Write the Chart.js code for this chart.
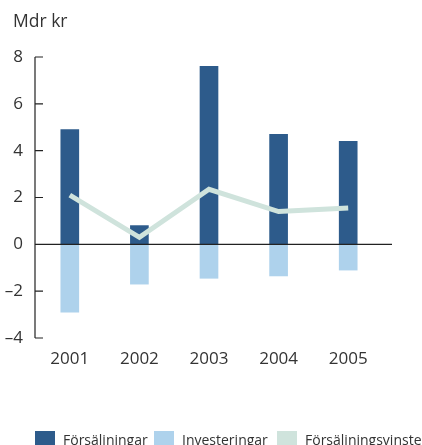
<!DOCTYPE html>
<html>
<head>
<meta charset="utf-8">
<script src="https://cdn.jsdelivr.net/npm/chart.js@4"></script>
<style>
  body { margin: 0; background: #fff; font-family: "Open Sans", sans-serif; color: #333; }
  #wrap { position: relative; width: 422px; height: 445px; overflow: hidden; }
  #unit { position: absolute; left: 13px; top: 8px; font-size: 17.5px; }
  #legend { position: absolute; left: 35px; top: 431px; white-space: nowrap; font-size: 14px; }
  #legend span.item { position: absolute; top: 0; }
  #legend i { display: inline-block; width: 20px; height: 20px; vertical-align: top; margin-right: 8px; }
  #legend b { font-weight: normal; position: relative; top: -1px; }
</style>
</head>
<body>
<div id="wrap">
  <canvas id="chart" width="422" height="445"></canvas>
  <div id="unit">Mdr kr</div>
  <div id="legend"></div>
</div>
<script>
// Data
const years = ['2001', '2002', '2003', '2004', '2005'];
const forsaljningar = [4.9, 0.8, 7.6, 4.7, 4.4];
const investeringar = [-2.9, -1.7, -1.45, -1.35, -1.1];
const vinster = [2.1, 0.3, 2.35, 1.4, 1.55];
const yTicks = [8, 6, 4, 2, 0, -2, -4];

const colors = { dark: '#2d5b8b', light: '#aed2ec', line: '#cfe3dc', text: '#333' };

// Legend (HTML, cut off at the right like the original)
const legendItems = [
    { label: 'Försäljningar', color: colors.dark, x: 0 },
    { label: 'Investeringar', color: colors.light, x: 119 },
    { label: 'Försäljningsvinster', color: colors.line, x: 242 }
];
document.getElementById('legend').innerHTML = legendItems
    .map(l => `<span class="item" style="left:${l.x}px"><i style="background:${l.color}"></i><b>${l.label}</b></span>`)
    .join('');

// Axis lines and inward ticks
const axesPlugin = {
    id: 'axes',
    afterDatasetsDraw(chart) {
        const ctx = chart.ctx;
        const y = chart.scales.y;
        const area = chart.chartArea;
        ctx.save();
        ctx.strokeStyle = '#222';
        ctx.lineWidth = 1.2;
        ctx.beginPath();
        ctx.moveTo(area.left, y.getPixelForValue(8));
        ctx.lineTo(area.left, y.getPixelForValue(-4));
        yTicks.forEach(v => {
            const py = y.getPixelForValue(v);
            ctx.moveTo(area.left, py);
            ctx.lineTo(area.left + 8, py);
        });
        const zero = y.getPixelForValue(0);
        ctx.moveTo(area.left, zero);
        ctx.lineTo(area.right + 9, zero);
        ctx.stroke();
        ctx.restore();
    }
};

new Chart(document.getElementById('chart'), {
    data: {
        labels: years,
        datasets: [
            { type: 'line', label: 'Försäljningsvinster', data: vinster, borderColor: colors.line,
              borderWidth: 5, pointRadius: 0, tension: 0, order: 0 },
            { type: 'bar', label: 'Försäljningar', data: forsaljningar, backgroundColor: colors.dark,
              barThickness: 18, order: 1 },
            { type: 'bar', label: 'Investeringar', data: investeringar, backgroundColor: colors.light,
              barThickness: 18, order: 1 }
        ]
    },
    options: {
        responsive: false,
        animation: false,
        layout: { padding: { top: 57, left: 0, right: 39, bottom: 67 } },
        plugins: { legend: { display: false }, tooltip: { enabled: false } },
        scales: {
            x: {
                stacked: true,
                offset: true,
                grid: { display: false, drawTicks: false },
                border: { display: false },
                ticks: { color: colors.text, font: { family: 'Open Sans', size: 17 }, padding: 11 },
                afterFit: s => { s.height = 40; }
            },
            y: {
                min: -4, max: 8,
                afterBuildTicks: s => { s.ticks = yTicks.map(v => ({ value: v })); },
                grid: { display: false, drawTicks: false },
                border: { display: false },
                ticks: {
                    color: colors.text, font: { family: 'Open Sans', size: 17 }, padding: 12,
                    callback: v => v < 0 ? '–' + Math.abs(v) : String(v)
                },
                afterFit: s => { s.width = 35; }
            }
        }
    },
    plugins: [axesPlugin]
});
</script>
</body>
</html>
